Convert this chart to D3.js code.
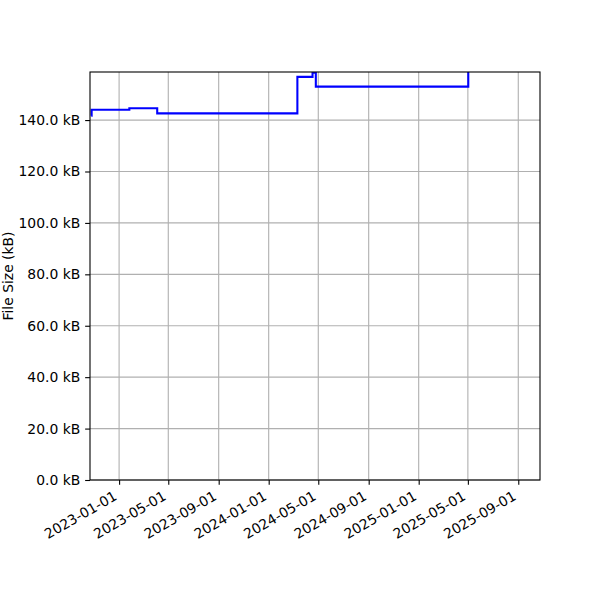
<!DOCTYPE html>
<html>
<head>
<meta charset="utf-8">
<script src="https://cdn.jsdelivr.net/npm/d3@7"></script>
<style>
  body { margin: 0; background: #fff; }
  svg text { font-family: "DejaVu Sans", sans-serif; }
</style>
</head>
<body>
<svg width="600" height="600"></svg>
<script>
// file size history (kB)
const dates = ["2022-10-25", "2022-10-26", "2023-01-26", "2023-04-04", "2024-03-11",
               "2024-04-17", "2024-04-25", "2025-05-02"];
const sizes = [141.7, 144.0, 144.6, 142.6, 156.8, 158.4, 153.0, 168.0];
const yTicks = [0, 20, 40, 60, 80, 100, 120, 140];
const xTicks = ["2023-01-01", "2023-05-01", "2023-09-01", "2024-01-01", "2024-05-01",
                "2024-09-01", "2025-01-01", "2025-05-01", "2025-09-01"];

const parse = d3.utcParse("%Y-%m-%d");
const data = dates.map((d, i) => ({ date: parse(d), size: sizes[i] }));

const svg = d3.select("svg");
const margin = { top: 72, right: 60, bottom: 120, left: 90 };
const width = 600 - margin.left - margin.right;
const height = 600 - margin.top - margin.bottom;
const fontSize = 13.9;
const tick = 4.86;

const x = d3.scaleUtc()
  .domain([parse("2022-10-22"), parse("2025-10-24")])
  .range([0, width]);
const y = d3.scaleLinear()
  .domain([0, 158.7])
  .range([height, 0]);

const g = svg.append("g").attr("transform", `translate(${margin.left},${margin.top})`);

svg.append("defs").append("clipPath").attr("id", "clip")
  .append("rect").attr("width", width).attr("height", height);

// grid
g.append("g")
  .selectAll("line")
  .data(xTicks.map(parse))
  .join("line")
  .attr("x1", d => x(d)).attr("x2", d => x(d))
  .attr("y1", 0).attr("y2", height)
  .attr("stroke", "#b0b0b0").attr("stroke-width", 1.1);
g.append("g")
  .selectAll("line")
  .data(yTicks)
  .join("line")
  .attr("x1", 0).attr("x2", width)
  .attr("y1", d => y(d)).attr("y2", d => y(d))
  .attr("stroke", "#b0b0b0").attr("stroke-width", 1.1);

// line
const line = d3.line()
  .x(d => x(d.date))
  .y(d => y(d.size))
  .curve(d3.curveStepAfter);

g.append("path")
  .datum(data)
  .attr("clip-path", "url(#clip)")
  .attr("fill", "none")
  .attr("stroke", "#0000ff")
  .attr("stroke-width", 2.08)
  .attr("d", line);

// axes
const xAxis = g.append("g")
  .attr("transform", `translate(0,${height})`)
  .call(d3.axisBottom(x).tickValues(xTicks.map(parse)).tickFormat(d3.utcFormat("%Y-%m-%d")).tickSize(tick));
xAxis.attr("font-family", null).attr("font-size", fontSize);
xAxis.selectAll("text")
  .attr("fill", "#000")
  .attr("text-anchor", "end")
  .attr("x", 0).attr("y", 0).attr("dy", 0)
  .attr("transform", "translate(-1.6,18.9) rotate(-30)");

const yAxis = g.append("g")
  .call(d3.axisLeft(y).tickValues(yTicks).tickFormat(d => d3.format(".1f")(d) + " kB").tickSize(tick).tickPadding(tick));
yAxis.attr("font-family", null).attr("font-size", fontSize);
yAxis.selectAll("text").attr("fill", "#000");

g.selectAll(".domain").remove();
g.selectAll(".tick line").attr("stroke", "#000").attr("stroke-width", 1.1);

g.append("rect")
  .attr("width", width).attr("height", height)
  .attr("fill", "none").attr("stroke", "#000").attr("stroke-width", 1.1);

svg.append("text")
  .attr("transform", `translate(13,${margin.top + height / 2}) rotate(-90)`)
  .attr("text-anchor", "middle")
  .attr("font-size", fontSize)
  .text("File Size (kB)");
</script>
</body>
</html>
